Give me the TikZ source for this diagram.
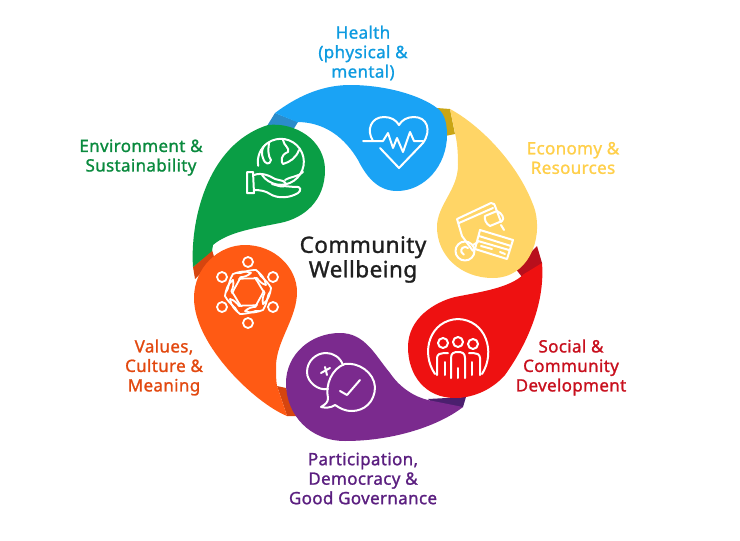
\documentclass[tikz,border=0pt]{standalone}
\usepackage{fontspec}
\setmainfont{Noto Sans}[FakeBold=1.2,LetterSpace=2]
\definecolor{cgreen}{HTML}{0A9E45}
\definecolor{cgreendk}{HTML}{0A8A3E}
\definecolor{cblue}{HTML}{1AA3F5}
\definecolor{cbluedk}{HTML}{2B8CCB}
\definecolor{ctxtblue}{HTML}{0E9BE0}
\definecolor{cyel}{HTML}{FFD566}
\definecolor{cyeldk}{HTML}{C9A514}
\definecolor{ctxtyel}{HTML}{FFCF4A}
\definecolor{cred}{HTML}{EE1111}
\definecolor{creddk}{HTML}{B80F1C}
\definecolor{ctxtred}{HTML}{C8101E}
\definecolor{cpur}{HTML}{7B2A8E}
\definecolor{cpurdk}{HTML}{4B1F6E}
\definecolor{ctxtpur}{HTML}{5B1F80}
\definecolor{cora}{HTML}{FF5A14}
\definecolor{coradk}{HTML}{D6450F}
\definecolor{ctxtora}{HTML}{E2480F}
\tikzset{
  lab/.style={align=center,font=\fontsize{17}{19.5}\selectfont,inner sep=0pt},
  ico/.style={draw=white,line width=2pt,line join=round,line cap=round},
}
\begin{document}
\begin{tikzpicture}[x=1pt,y=-1pt]
\useasboundingbox (0,0) rectangle (740,541);
% tail bands
\fill[cbluedk] (267,126) -- (275,113) -- (298,122) -- (293,130) -- cycle;
\fill[cyeldk] (437,108) -- (450,109) -- (455,134) -- (445,136) -- cycle;
\fill[creddk] (537,246) -- (542,263) -- (541,270) -- (522,277) -- (515,268) -- cycle;
\fill[cpurdk] (428,399) -- (466,397) -- (463,407) -- (441,410) -- cycle;
\fill[coradk] (277,386) -- (286,388) -- (297,416) -- (287,416) -- cycle;
\fill[coradk] (212,250) -- (193,267) -- (195,279) -- (215,260) -- cycle;
% drops
\fill[cgreen] (193,267) .. controls (190,225) and (205,145) .. (268,125) .. controls (295,122) and (325,140) .. (325,170) .. controls (325,200) and (305,218) .. (280,223) .. controls (255,228) and (228,232) .. (213,245) -- (212,251) -- cycle;
\fill[cblue] (297,122) .. controls (325,122) and (345,138) .. (358,160) .. controls (368,180) and (380,191) .. (397,191) .. controls (425,191) and (447,165) .. (447,135) .. controls (447,120) and (443,112) .. (437,108) .. controls (420,95) and (385,85) .. (350,85) .. controls (320,85) and (295,98) .. (275,113) -- cycle;
\fill[cyel] (450,109) .. controls (480,125) and (520,165) .. (535,210) .. controls (543,240) and (528,278) .. (493,278) .. controls (460,278) and (437,255) .. (437,227) .. controls (437,205) and (458,190) .. (458,165) .. controls (458,150) and (457,142) .. (455,133) -- cycle;
\fill[cred] (542,263) .. controls (545,300) and (530,340) .. (505,375) .. controls (490,392) and (470,398) .. (455,398) .. controls (425,398) and (408,375) .. (408,347) .. controls (408,318) and (435,302) .. (455,297) .. controls (480,292) and (510,288) .. (524,274) -- cycle;
\fill[cpur] (463,407) .. controls (440,425) and (395,441) .. (345,441) .. controls (310,441) and (286,415) .. (286,383) .. controls (286,355) and (310,333) .. (340,333) .. controls (365,333) and (375,355) .. (390,373) .. controls (400,388) and (415,397) .. (428,400) -- cycle;
\fill[cora] (287,416) .. controls (255,403) and (194,345) .. (194,298) .. controls (194,268) and (218,245) .. (245,245) .. controls (275,245) and (297,268) .. (297,292) .. controls (297,318) and (277,340) .. (276,365) .. controls (276,375) and (276,380) .. (277,386) -- cycle;
% heart
\draw[ico] (363,141) -- (383,141) -- (388,133) -- (393,148) -- (397,138) -- (403,152) -- (410,132) -- (414,141) -- (423,141);
\draw[ico] (373,141) .. controls (366,130) and (371,117) .. (384,117) .. controls (391,117) and (396,120) .. (399,125) .. controls (402,120) and (407,117) .. (414,117) .. controls (427,117) and (432,130) .. (423,143) -- (399,168) -- (380,148);
% globe + hand
\draw[ico] (262,175) arc[start angle=145,end angle=-190,radius=23];
\draw[ico] (269,143) .. controls (268,150) and (268,156) .. (271,160) .. controls (270,165) and (265,165) .. (263,158) .. controls (261,154) and (262,149) .. (264,146);
\draw[ico] (283,140) .. controls (284,146) and (290,148) .. (288,152) .. controls (280,155) and (281,162) .. (283,164) .. controls (290,162) and (296,158) .. (299,150);
\draw[ico] (285,180) .. controls (292,176) and (298,177) .. (303,172);
\draw[ico] (247,172) -- (253,172) -- (254,193) -- (247,193) -- cycle;
\draw[ico] (254,175) .. controls (262,172) and (270,176) .. (275,179) -- (283,181) .. controls (288,183) and (286,188) .. (279,186) -- (272,184);
\draw[ico] (283,186) -- (295,187) .. controls (302,186) and (301,191) .. (298,193) .. controls (290,198) and (278,199) .. (270,194) .. controls (266,191) and (260,190) .. (254,190);
% wallet
\draw[ico] (473,251) -- (462,236) -- (457,219) -- (491,203) .. controls (494,203) and (495,205) .. (495,206) -- (501,222);
\draw[ico] (459,223) -- (493,208);
\draw[ico] (485,216) -- (497,211) .. controls (502,213) and (505,219) .. (502,221) -- (490,226) .. controls (486,224) and (484,219) .. (485,216) -- cycle;
\draw[ico] (501,225) -- (504,230);
\draw[ico] (480,230) -- (513,240) -- (507,259) -- (475,249) -- cycle;
\draw[ico] (479,236) -- (511,246);
\draw[ico] (478,241) -- (509,250);
\draw[ico] (481,246) -- (492,249);
\draw[ico] (500,252) -- (505,254);
\draw[ico] (465,251) circle[radius=9.5];
\draw[ico] (468,248) arc[start angle=-45,end angle=-250,radius=4];
\draw[ico] (473,245) -- (478,242);
% people
\draw[ico] (435,374) .. controls (420,352) and (430,320) .. (458,319) .. controls (486,320) and (496,352) .. (482,374);
\draw[ico] (443,343) circle[radius=5];
\draw[ico] (458,342) circle[radius=5];
\draw[ico] (473,344) circle[radius=5];
\draw[ico] (437,375) -- (437,358) .. controls (437,354) and (441,353) .. (444,353) -- (448,353);
\draw[ico] (445,375) -- (445,362);
\draw[ico] (472,375) -- (472,362);
\draw[ico] (480,375) -- (480,358) .. controls (480,354) and (476,353) .. (473,353) -- (469,353);
\draw[ico] (451,378) -- (451,358) .. controls (451,353) and (454,352) .. (458,352) .. controls (462,352) and (465,353) .. (465,358) -- (465,378);
\draw[ico] (458,368) -- (458,378);
% bubbles
\draw[ico] (328,389) .. controls (318,391) and (307,382) .. (307,372) .. controls (307,361) and (316,353) .. (326,353) .. controls (333,353) and (340,357) .. (343,365);
\draw[ico] (321,373) -- (330,368) (325,367) -- (327,375);
\draw[ico] (345,364) .. controls (358,362) and (374,372) .. (375,387) .. controls (375,402) and (364,411) .. (352,411) .. controls (344,411) and (340,408) .. (335,405) .. controls (331,408) and (325,408) .. (321,407) .. controls (326,404) and (328,402) .. (328,398) .. controls (325,385) and (332,368) .. (345,364) -- cycle;
\draw[ico] (340,391) -- (347,395) -- (360,380);
% network
\foreach \px/\py in {248/262,273/277,273/307,248/323,222/307,222/277}{\draw[ico,line width=1.8pt] (\px,\py) circle[radius=5];}
\foreach \a in {0,60,...,300}{
\begin{scope}[shift={(248,292)},rotate=\a]
\draw[ico,line width=1.8pt] (-11,-19) .. controls (-6,-18) and (-3,-22) .. (8,-22) .. controls (13,-18) and (17,-14) .. (18,-7) .. controls (14,-8) and (11,-11) .. (9,-14) .. controls (4,-13) and (-3,-14) .. (-9,-13);
\end{scope}}
% text
\node[lab,text=ctxtblue] (health) at (363,53) {Health\\(physical \&\\mental)};
\node[lab,text=ctxtyel] (econ) at (573,158) {Economy \&\\Resources};
\node[lab,text=ctxtred] (soc) at (571,367.5) {Social \&\\Community\\Development};
\node[lab,text=ctxtpur] (part) at (363,478.5) {Participation,\\Democracy \&\\Good Governance};
\node[lab,text=ctxtora] (val) at (164,367.5) {Values,\\Culture \&\\Meaning};
\node[lab,text=cgreendk] (env) at (141,157.5) {Environment \&\\Sustainability};
\node[align=center,inner sep=0pt,text=black!88,font=\fontsize{22.5}{24.5}\selectfont] (core) at (363,259.5) {Community\\Wellbeing};
\end{tikzpicture}
\end{document}
